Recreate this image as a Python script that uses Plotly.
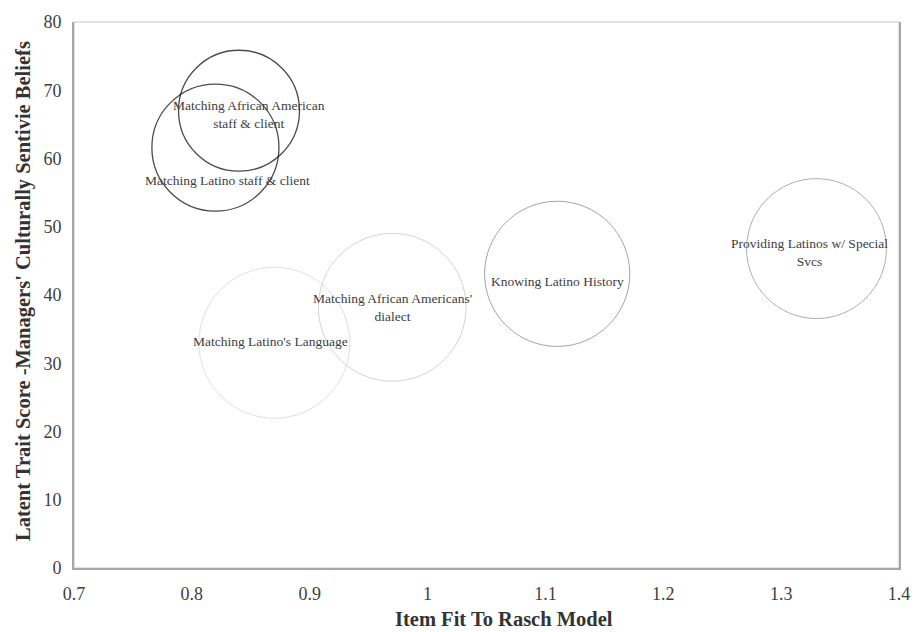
import plotly.graph_objects as go

# ---- data ----
labels = [
    "Matching African American<br>staff & client",
    "Matching Latino staff & client",
    "Matching Latino's Language",
    "Matching African Americans'<br>dialect",
    "Knowing Latino History",
    "Providing Latinos w/ Special<br>Svcs",
]
item_fit = [0.84, 0.82, 0.87, 0.97, 1.11, 1.33]
trait_score = [67.0, 61.6, 33.0, 38.2, 43.1, 46.8]
bubble_size = [3.85, 4.25, 6.0, 5.75, 5.55, 5.15]

x_ticks = [0.7, 0.8, 0.9, 1, 1.1, 1.2, 1.3, 1.4]
y_ticks = [0, 10, 20, 30, 40, 50, 60, 70, 80]

x_title = "Item Fit To Rasch Model"
y_title = "Latent Trait Score -Managers' Culturally Sentivie Beliefs"

# ---- styles ----
line_colors = ["#000000", "#000000", "#d3d3d3", "#c2c2c2", "#7f7f7f", "#8c8c8c"]
line_widths = [1.3, 1.3, 1.0, 1.0, 1.0, 1.0]
label_xshift = [10, 12, -4, 0, 0, -7]
label_yshift = [-4, -33, 1, 0, -8, -4]
FONT = "Liberation Serif, Times New Roman, serif"
MAX_DIAM = 151
sizeref = 2.0 * max(bubble_size) / MAX_DIAM ** 2

fig = go.Figure()
fig.add_trace(go.Scatter(
    x=item_fit, y=trait_score, mode="markers",
    marker=dict(size=bubble_size, sizemode="area", sizeref=sizeref,
                color="rgba(0,0,0,0)",
                line=dict(color=line_colors, width=line_widths)),
    hoverinfo="skip", showlegend=False,
))

for lab, xv, yv, xs, ys in zip(labels, item_fit, trait_score, label_xshift, label_yshift):
    fig.add_annotation(x=xv, y=yv, text=lab, showarrow=False, xshift=xs, yshift=ys,
                       font=dict(family=FONT, size=13.5, color="#404040"),
                       align="center")

# axis titles
fig.add_annotation(xref="paper", yref="paper", x=0.5216, y=-0.093, text="<b>" + x_title + "</b>",
                   showarrow=False, xanchor="center", yanchor="middle",
                   font=dict(family=FONT, size=20.5, color="#333333"))
fig.add_annotation(xref="paper", yref="paper", x=-0.062, y=0.507, text="<b>" + y_title + "</b>",
                   showarrow=False, xanchor="center", yanchor="middle", textangle=-90,
                   font=dict(family=FONT, size=20.5, color="#333333"))

fig.add_shape(type="rect", xref="paper", yref="paper", x0=0, y0=0, x1=1, y1=1,
              line=dict(color="#d9d9d9", width=1.5), layer="below")

fig.update_layout(
    width=922, height=632,
    margin=dict(l=74, r=16, t=18, b=64),
    plot_bgcolor="white", paper_bgcolor="white",
    font=dict(family=FONT, size=18, color="#404040"),
    xaxis=dict(range=[0.7, 1.4], tickvals=x_ticks, ticktext=[str(v) for v in x_ticks],
               showgrid=False, zeroline=False, showline=True, linecolor="#a6a6a6", linewidth=2,
               ticks="", ticklabelstandoff=8),
    yaxis=dict(range=[0, 80], tickvals=y_ticks, showgrid=False, zeroline=False,
               showline=True, linecolor="#a6a6a6", linewidth=2, mirror=True,
               ticks="", ticklabelstandoff=7),
)

fig.write_html("out.html", config={"displayModeBar": False},
               post_script="document.body.style.margin='0px';document.body.style.overflow='hidden';")
